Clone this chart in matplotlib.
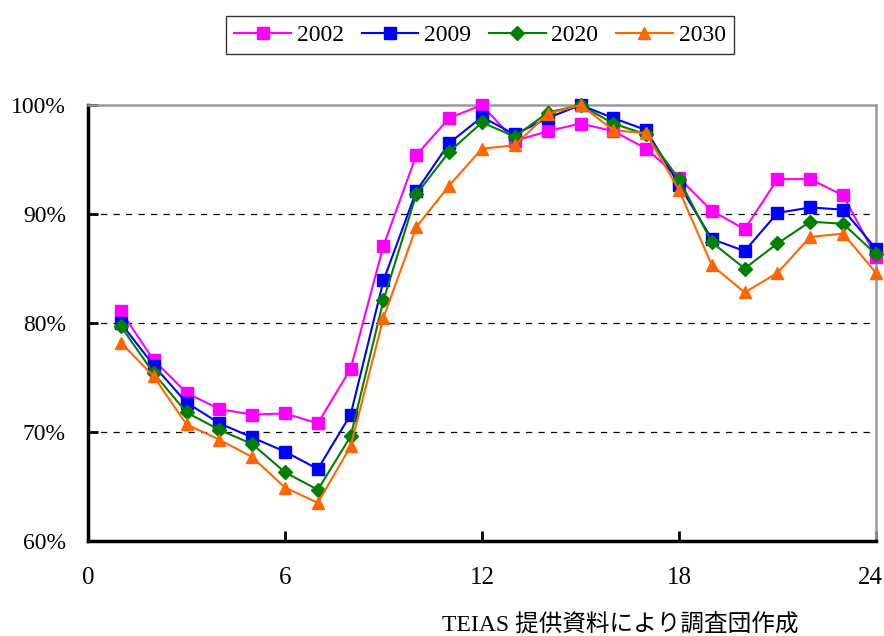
import matplotlib
matplotlib.use("Agg")
import matplotlib.pyplot as plt
from matplotlib.ticker import FuncFormatter
from matplotlib.transforms import ScaledTranslation

plt.rcParams['font.family'] = ['Liberation Serif', 'Noto Sans CJK JP', 'DejaVu Sans']

hours = list(range(1, 25))
y2002 = [81.1, 76.6, 73.6, 72.1, 71.6, 71.7, 70.8, 75.8, 87.1, 95.4, 98.8, 100.0,
         96.7, 97.6, 98.3, 97.6, 96.0, 93.3, 90.3, 88.6, 93.2, 93.2, 91.7, 86.1]
y2009 = [80.0, 76.1, 72.7, 70.8, 69.5, 68.2, 66.6, 71.6, 83.9, 92.1, 96.5, 98.9,
         97.3, 98.8, 100.0, 98.8, 97.7, 92.7, 87.7, 86.6, 90.1, 90.6, 90.4, 86.8]
y2020 = [79.7, 75.4, 71.8, 70.2, 68.9, 66.3, 64.7, 69.6, 82.1, 91.8, 95.7, 98.4,
         97.1, 99.3, 100.0, 98.3, 97.3, 93.2, 87.4, 85.0, 87.3, 89.3, 89.1, 86.3]
y2030 = [78.2, 75.1, 70.7, 69.3, 67.7, 64.9, 63.5, 68.7, 80.5, 88.8, 92.6, 96.0,
         96.3, 99.2, 100.0, 97.7, 97.4, 92.2, 85.3, 82.8, 84.6, 87.9, 88.2, 84.6]
labels = ['2002', '2009', '2020', '2030']
colors = ['#FF00FF', '#0000FF', '#008000', '#FF6600']
markers = ['s', 's', 'D', '^']
msizes = [8.2, 8.2, 7.0, 9.2]
xticks = [0, 6, 12, 18, 24]
yticks = [60, 70, 80, 90, 100]

fig = plt.figure(figsize=(8.84, 6.36), dpi=100)
ax = fig.add_axes([88/884, 95/636, (876-88)/884, (541-105)/636])

for data, lab, c, m, ms in zip([y2002, y2009, y2020, y2030], labels, colors, markers, msizes):
    ax.plot(hours, data, color=c, marker=m, markersize=ms, linewidth=1.5,
            markeredgecolor=c, label=lab, clip_on=False, zorder=3)

ax.set_xlim(0, 24)
ax.set_ylim(60, 100)
ax.set_xticks(xticks)
ax.set_yticks(yticks)
ax.yaxis.set_major_formatter(FuncFormatter(lambda v, p: f"{int(v)}%"))

for yv in [70, 80, 90]:
    ax.axhline(yv, color='black', linestyle=(0, (5, 5)), linewidth=0.9, zorder=1)

ax.spines['left'].set_linewidth(2.5)
ax.spines['bottom'].set_linewidth(2.5)
ax.spines['top'].set_color('#999999')
ax.spines['right'].set_color('#999999')
ax.spines['top'].set_linewidth(1.8)
ax.spines['right'].set_linewidth(1.8)

ax.tick_params(axis='x', direction='in', length=7, width=2, pad=19, labelsize=18)
ax.tick_params(axis='y', direction='in', length=7, width=2, pad=16, labelsize=17)

# keep the last x label ("24") inside the figure edge
last = ax.get_xticklabels()[-1]
last.set_horizontalalignment('right')
last.set_transform(last.get_transform() + ScaledTranslation(7/100, 0, fig.dpi_scale_trans))

leg = fig.legend(loc='center', bbox_to_anchor=(480/884, 1 - 35/636), ncol=4,
                 fontsize=17, frameon=True, fancybox=False, edgecolor='black',
                 handlelength=2.4, columnspacing=0.75, handletextpad=0.25,
                 borderpad=0.35)
leg.get_frame().set_linewidth(1.0)

fig.text(620/884, 1 - 624/636, "TEIAS 提供資料により調査団作成", ha='center', va='center',
         fontsize=17)

fig.savefig("out.png", dpi=100)
